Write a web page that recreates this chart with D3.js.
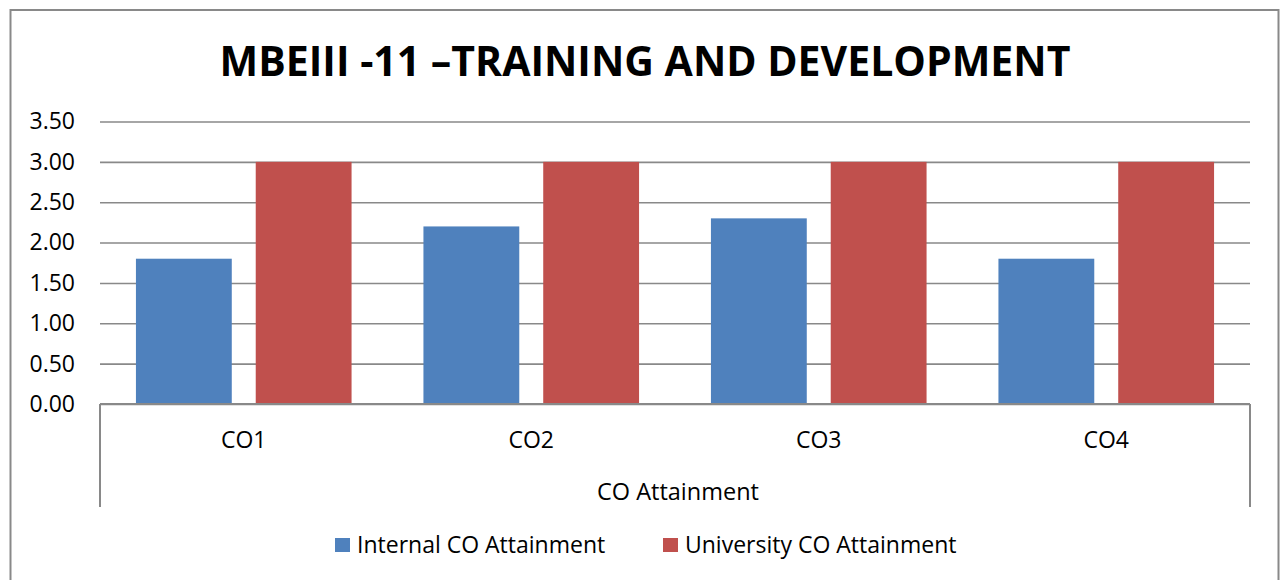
<!DOCTYPE html>
<html>
<head>
<meta charset="utf-8">
<script src="https://cdn.jsdelivr.net/npm/d3@7"></script>
<style>
  body { margin: 0; background: #fff; }
  svg { display: block; font-family: "Open Sans", "Noto Sans", sans-serif; }
</style>
</head>
<body>
<div id="chart"></div>
<script>
var categories = ["CO1", "CO2", "CO3", "CO4"];
var series = ["Internal CO Attainment", "University CO Attainment"];
var internalValues = [1.8, 2.2, 2.3, 1.8];
var universityValues = [3.0, 3.0, 3.0, 3.0];
var yTicks = [0, 0.5, 1, 1.5, 2, 2.5, 3, 3.5];
var title = "MBEIII -11 \u2013TRAINING AND DEVELOPMENT";
var groupLabel = "CO Attainment";

var width = 1280, height = 580;
var plot = { left: 100, right: 1250, top: 121.5, bottom: 404 };
var colors = ["#4f81bd", "#c0504d"];
var gridColor = "#898989";

var rows = categories.map(function (c, i) {
  return { cat: c, values: [internalValues[i], universityValues[i]] };
});

var svg = d3.select("#chart").append("svg")
  .attr("width", width)
  .attr("height", height);

// outer chart border
svg.append("rect")
  .attr("x", 10.5).attr("y", 10)
  .attr("width", 1268).attr("height", 600)
  .attr("fill", "#fff")
  .attr("stroke", gridColor)
  .attr("stroke-width", 2);

var x = d3.scaleBand().domain(categories).range([plot.left, plot.right]).padding(0);
var xSub = d3.scaleBand().domain(series).range([0, x.bandwidth()])
  .paddingInner(0.2).paddingOuter(0.3);
var y = d3.scaleLinear().domain([0, 3.5]).range([plot.bottom, plot.top]);

// gridlines
svg.append("g")
  .attr("transform", "translate(" + plot.left + ",0)")
  .call(d3.axisLeft(y).tickValues(yTicks).tickSize(-(plot.right - plot.left)).tickFormat(""))
  .call(function (g) { g.select(".domain").remove(); })
  .selectAll("line")
  .attr("stroke", gridColor)
  .attr("stroke-width", 1.6);

// y tick labels
svg.append("g")
  .attr("transform", "translate(" + plot.left + ",0)")
  .call(d3.axisLeft(y).tickValues(yTicks).tickSize(0).tickPadding(25).tickFormat(d3.format(".2f")))
  .call(function (g) { g.select(".domain").remove(); })
  .selectAll("text")
  .attr("font-family", "'Open Sans', sans-serif")
  .attr("font-size", 23)
  .attr("fill", "#000");

// bars
svg.append("g")
  .selectAll("g")
  .data(rows)
  .enter()
  .append("g")
  .attr("transform", function (d) { return "translate(" + x(d.cat) + ",0)"; })
  .selectAll("rect")
  .data(function (d) {
    return series.map(function (s, i) { return { key: s, value: d.values[i], idx: i }; });
  })
  .enter()
  .append("rect")
  .attr("x", function (d) { return xSub(d.key); })
  .attr("y", function (d) { return y(d.value); })
  .attr("width", xSub.bandwidth())
  .attr("height", function (d) { return y(0) - y(d.value); })
  .attr("fill", function (d) { return colors[d.idx]; });

// category axis (two levels)
var axisG = svg.append("g");
axisG.append("line")
  .attr("x1", plot.left).attr("x2", plot.right)
  .attr("y1", plot.bottom).attr("y2", plot.bottom)
  .attr("stroke", gridColor).attr("stroke-width", 2);
[plot.left, plot.right].forEach(function (px) {
  axisG.append("line")
    .attr("x1", px).attr("x2", px)
    .attr("y1", plot.bottom).attr("y2", 507)
    .attr("stroke", gridColor).attr("stroke-width", 2);
});
axisG.selectAll("text.cat")
  .data(categories)
  .enter()
  .append("text")
  .attr("class", "cat")
  .attr("x", function (d) { return x(d) + x.bandwidth() / 2; })
  .attr("y", 448)
  .attr("text-anchor", "middle")
  .attr("font-size", 23)
  .text(function (d) { return d; });
axisG.append("text")
  .attr("x", (plot.left + plot.right) / 2 + 3)
  .attr("y", 500)
  .attr("text-anchor", "middle")
  .attr("font-size", 23.5)
  .text(groupLabel);

// title
svg.append("text")
  .attr("x", 645)
  .attr("y", 76)
  .attr("text-anchor", "middle")
  .attr("font-size", 41)
  .attr("font-weight", "bold")
  .text(title);

// legend
var legendX = [335, 663];
var lg = svg.append("g")
  .selectAll("g")
  .data(series)
  .enter()
  .append("g")
  .attr("transform", function (d, i) { return "translate(" + legendX[i] + ",538)"; });
lg.append("rect")
  .attr("width", 15).attr("height", 14)
  .attr("fill", function (d, i) { return colors[i]; });
lg.append("text")
  .attr("x", 22)
  .attr("y", 15)
  .attr("font-size", 23)
  .text(function (d) { return d; });
</script>
</body>
</html>
